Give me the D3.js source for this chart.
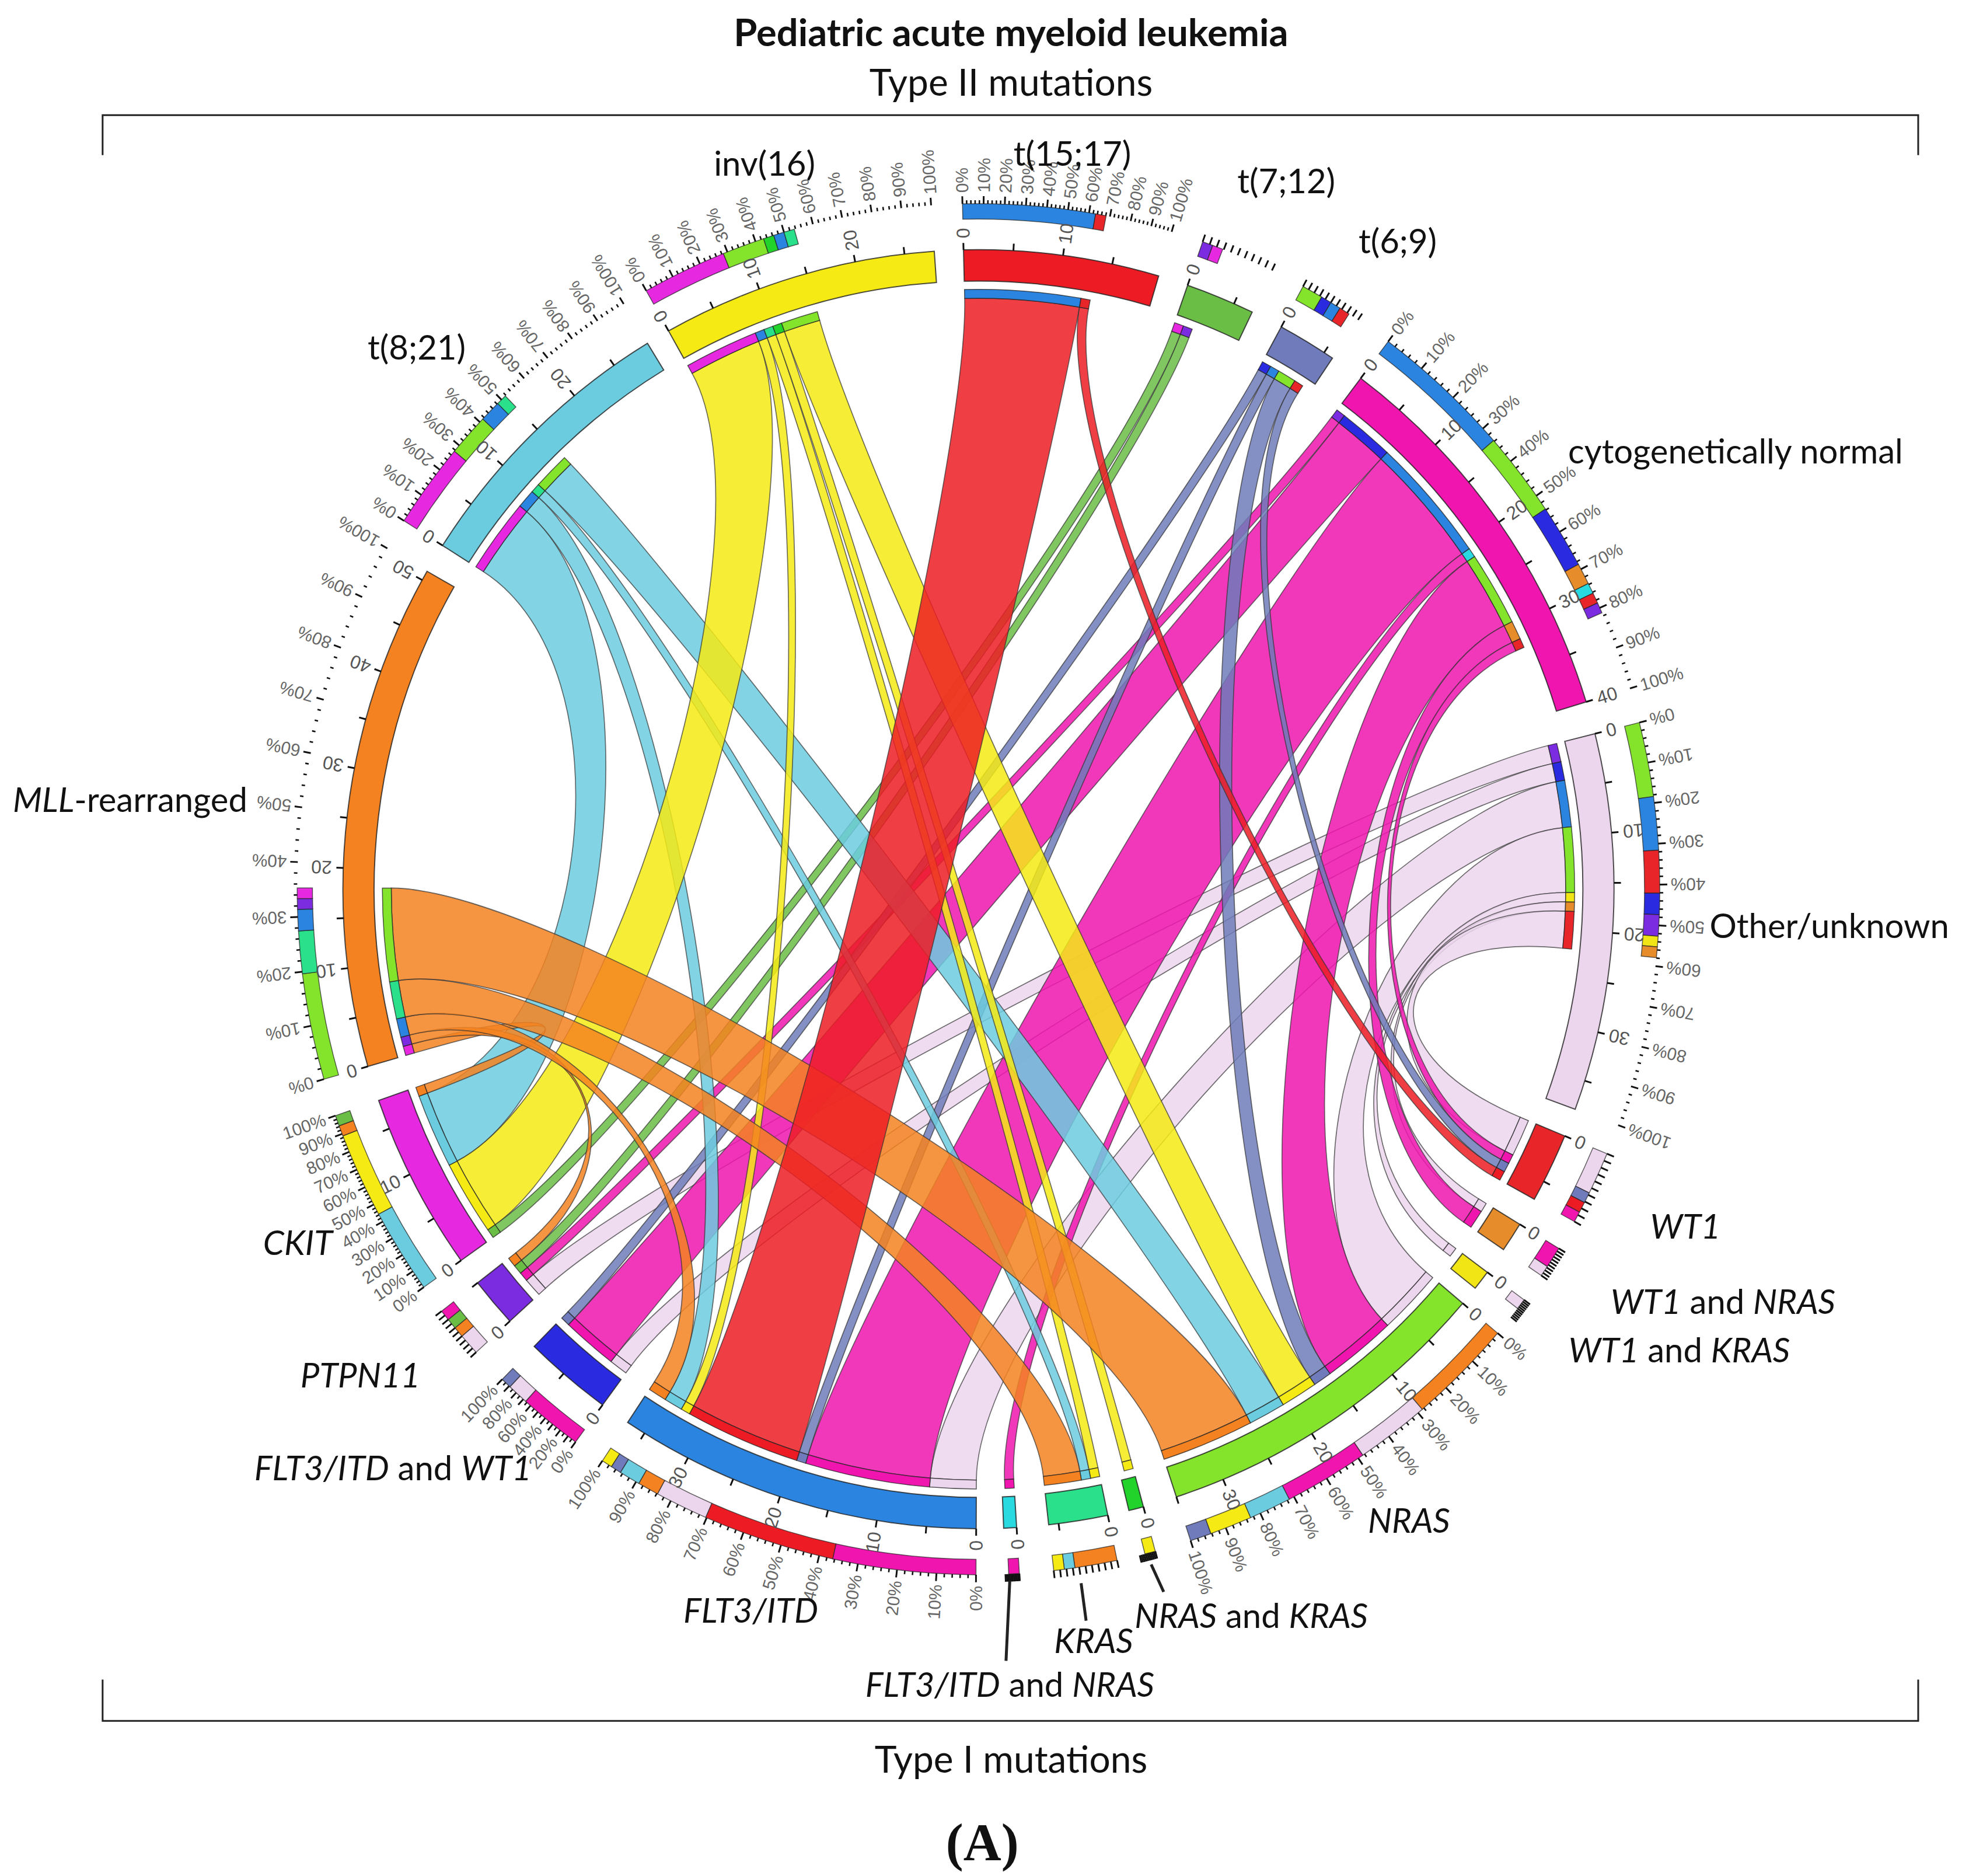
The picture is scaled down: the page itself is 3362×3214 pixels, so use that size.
<!DOCTYPE html>
<html><head><meta charset="utf-8">
<script src="https://cdn.jsdelivr.net/npm/d3@7/dist/d3.min.js"></script>
<style>html,body{margin:0;padding:0;background:#fff}svg{display:block}</style>
</head><body>
<svg id="c" width="3362" height="3214"></svg>
<script>
// ---------- data ----------
const sectorNames = ["t15","t7","t6","cyto","other","wt1","wn","wk","nras","nk","kras","fn","flt3","fw","ptpn","ckit","mll","t8","inv"];
const sectorTotals = [19.8,7,6,40,38,7,3,2,35,1.5,6,1.3,37,9,5,18,51,29,28];
const sectorColors = ["#ed1c24","#6abd45","#6f7bba","#f015ae","#ecd6ee","#e8262a","#e68c2a","#f2e515","#84e32b","#22d32b","#2ae08a","#29dbe0","#2b85e0","#2a2be0","#7b2be0","#e629e0","#f58220","#6cccdf","#f5ea14"];
const linkSource = ["t15","t15","t7","t7","t6","t6","t6","t6",
  "cyto","cyto","cyto","cyto","cyto","cyto","cyto",
  "other","other","other","other","other","other","other",
  "t8","t8","t8","t8","inv","inv","inv","inv","inv",
  "mll","mll","mll","mll","mll"];
const linkTarget = ["flt3","wt1","ckit","ptpn","fw","flt3","nras","wt1",
  "ptpn","fw","flt3","fn","nras","wn","wt1",
  "ptpn","fw","flt3","nras","wk","wn","wt1",
  "ckit","flt3","kras","nras","ckit","flt3","kras","nk","nras",
  "ckit","ptpn","flt3","kras","nras"];
const linkValue = [12.5,1,1,1,1,1,2,1,
  1,6,13.5,1,8,2,1,
  2,2,5,7,1,1,4,
  8,2,1,4,8,1,1,1,4,
  1,1,2,4,10];
// order of partners along the inner cap (clockwise)
const capOrder = {
  t15:["flt3","wt1"], t7:["ckit","ptpn"], t6:["fw","flt3","nras","wt1"],
  cyto:["ptpn","fw","flt3","fn","nras","wn","wt1"],
  other:["ptpn","fw","flt3","nras","wk","wn","wt1"],
  wt1:["other","cyto","t6","t15"], wn:["other","cyto"], wk:["other"],
  nras:["other","cyto","t6","inv","t8","mll"], nk:["inv"], kras:["inv","t8","mll"], fn:["cyto"],
  flt3:["other","cyto","t6","t15","inv","t8","mll"], fw:["other","cyto","t6"],
  ptpn:["other","cyto","t7","mll"], ckit:["t7","inv","t8","mll"],
  mll:["ckit","ptpn","flt3","kras","nras"], t8:["ckit","flt3","kras","nras"], inv:["ckit","flt3","kras","nk","nras"]
};
// order of partners along the outer percentage ring
const ringOrder = {
  t15:["flt3","wt1"], t7:["ptpn","ckit"], t6:["nras","fw","flt3","wt1"],
  cyto:["flt3","nras","fw","wn","fn","wt1","ptpn"],
  other:["nras","flt3","wt1","fw","ptpn","wk","wn"],
  wt1:["other","t6","t15","cyto"], wn:["cyto","other"], wk:["other"],
  nras:["mll","other","cyto","t8","inv","t6"], nk:["inv"], kras:["mll","t8","inv"], fn:["cyto"],
  flt3:["cyto","t15","other","mll","t8","t6","inv"], fw:["cyto","other","t6"],
  ptpn:["other","mll","t7","cyto"], ckit:["t8","inv","mll","t7"],
  mll:["nras","kras","flt3","ptpn","ckit"], t8:["ckit","nras","flt3","kras"], inv:["ckit","nras","nk","flt3","kras"]
};
const pctLabelStep = {t15:10,cyto:10,other:10,nras:10,flt3:10,fw:20,ckit:10,mll:10,t8:10,inv:10};
const pctTickStep = {t15:2,cyto:2,other:2,nras:2,flt3:2,fw:5,ckit:2,mll:2,t8:2,inv:2};
const inwardLabels = ["other","flt3","fw","ptpn","ckit","fn","kras","nk","wk"];
const sectorTextLabels = [
  ["t(15;17)",857,122],["inv(16)",611,130],["t(7;12)",1028,144],["t(6;9)",1117,192],["t(8;21)",333,277],
  ["cytogenetically normal",1387,360],["Other/unknown",1462,739]
];
const italicLabels = [
  [[["MLL",1],["-rearranged",0]],104,638],
  [[["WT1",1]],1347,979],
  [[["WT1",1],[" and ",0],["NRAS",1]],1377,1039],
  [[["WT1",1],[" and ",0],["KRAS",1]],1342,1078],
  [[["NRAS",1]],1126,1214],
  [[["NRAS",1],[" and ",0],["KRAS",1]],1000,1290],
  [[["KRAS",1]],874,1310],
  [[["FLT3/ITD",1],[" and ",0],["NRAS",1]],807,1345],
  [[["FLT3/ITD",1]],600,1286],
  [[["FLT3/ITD",1],[" and ",0],["WT1",1]],314,1172],
  [[["PTPN11",1]],288,1098],
  [[["CKIT",1]],238,992]
];
const leaders = [[807,1263,804,1327],[864,1265,868,1295],[920,1250,930,1272]];
// angular gap after each sector (degrees)
const gapsDeg = [2.74,2.94,3.12,2.96,2.57,2.6,2.5,1.76,3.1,1.95,2.9,2.48,2.75,3.15,2.5,3.2,2.7,2.2,3.2];

// ---------- layout ----------
const S = 3362/1568, R = 1100;
const RAD = Math.PI/180;
const UNIT = 0.9*RAD;
const START = -1.35*RAD;
const rBandOut=R, rBandIn=R*0.951, rCapOut=R*0.938, rCapIn=R*0.924, rRingIn=R*1.048, rRingOut=R*1.072;

const svg = d3.select("#c");
svg.append("rect").attr("width",3362).attr("height",3214).attr("fill","#fff");
const g = svg.append("g").attr("transform",`translate(${782*S},${710.5*S}) scale(0.990,0.996)`);

const sectors = {};
let cursor = START;
sectorNames.forEach((n,i)=>{
  const a0=cursor, a1=cursor+sectorTotals[i]*UNIT;
  sectors[n]={name:n,total:sectorTotals[i],color:sectorColors[i],
    a0,a1,angle:d3.scaleLinear().domain([0,sectorTotals[i]]).range([a0,a1]),
    pct:d3.scaleLinear().domain([0,100]).range([a0,a1])};
  cursor=a1+gapsDeg[i]*RAD;
});
const value = {};
linkValue.forEach((v,i)=>{
  value[linkSource[i]+"|"+linkTarget[i]]=v;
  value[linkTarget[i]+"|"+linkSource[i]]=v;
});
const capPos = {};
sectorNames.forEach(n=>{
  let c=0;
  capOrder[n].forEach(p=>{
    const v=value[n+"|"+p];
    capPos[n+"|"+p]=[sectors[n].angle(c),sectors[n].angle(c+v)];
    c+=v;
  });
});
const pt=(r,a)=>[r*Math.sin(a),-r*Math.cos(a)];
const arc=d3.arc();
const K=0.7;
function ribbonPath(a,b){
  const p=d3.path(), r=rCapIn;
  const q=(ang)=>pt(r,ang), c=(ang)=>pt(r*K,ang);
  p.moveTo(...q(a[0]));
  p.arc(0,0,r,a[0]-Math.PI/2,a[1]-Math.PI/2);
  p.bezierCurveTo(...c(a[1]),...c(b[0]),...q(b[0]));
  p.arc(0,0,r,b[0]-Math.PI/2,b[1]-Math.PI/2);
  p.bezierCurveTo(...c(b[1]),...c(a[0]),...q(a[0]));
  p.closePath();
  return p.toString();
}
// ribbons
const drawOrder=["other","cyto","t6","t7","t8","inv","mll","t15"];
const linkIdx=d3.range(linkValue.length).sort((x,y)=>drawOrder.indexOf(linkSource[x])-drawOrder.indexOf(linkSource[y]));
g.append("g").selectAll("path").data(linkIdx).join("path")
  .attr("d",i=>ribbonPath(capPos[linkSource[i]+"|"+linkTarget[i]],capPos[linkTarget[i]+"|"+linkSource[i]]))
  .attr("fill",i=>sectors[linkSource[i]].color).attr("fill-opacity",0.85)
  .attr("stroke","#333").attr("stroke-opacity",0.7).attr("stroke-width",1.7);
// caps
const capData=Object.keys(capPos).map(k=>{const [s,p]=k.split("|");return {s,p,a:capPos[k]};});
g.append("g").selectAll("path").data(capData).join("path")
  .attr("d",d=>arc({innerRadius:rCapIn,outerRadius:rCapOut,startAngle:d.a[0],endAngle:d.a[1]}))
  .attr("fill",d=>sectors[d.p].color).attr("stroke","#222").attr("stroke-opacity",.75).attr("stroke-width",1.5);
// bands
const secList=sectorNames.map(n=>sectors[n]);
g.append("g").selectAll("path").data(secList).join("path")
  .attr("d",d=>arc({innerRadius:rBandIn,outerRadius:rBandOut,startAngle:d.a0,endAngle:d.a1}))
  .attr("fill",d=>d.color).attr("stroke","#222").attr("stroke-opacity",.8).attr("stroke-width",2);
// percentage rings
const ringData=[];
sectorNames.forEach(n=>{
  let c=0;
  ringOrder[n].forEach(p=>{
    const v=value[n+"|"+p];
    ringData.push({s:n,p,a:[sectors[n].angle(c),sectors[n].angle(c+v)]});
    c+=v;
  });
});
g.append("g").selectAll("path").data(ringData).join("path")
  .attr("d",d=>arc({innerRadius:rRingIn,outerRadius:rRingOut,startAngle:d.a[0],endAngle:d.a[1]}))
  .attr("fill",d=>sectors[d.p].color).attr("stroke","#222").attr("stroke-opacity",.7).attr("stroke-width",1.5);

function radial(parent,a,r0,r1,w){
  const [x1,y1]=pt(r0,a),[x2,y2]=pt(r1,a);
  parent.append("line").attr("x1",x1).attr("y1",y1).attr("x2",x2).attr("y2",y2)
    .attr("stroke","#111").attr("stroke-width",w);
}
function radLabel(parent,a,r,txt,inward,size,fill){
  const deg=a*180/Math.PI;
  const [x,y]=pt(r,a);
  parent.append("text").attr("x",x).attr("y",y)
    .attr("transform",`rotate(${inward?deg+90:deg-90},${x},${y})`)
    .attr("text-anchor",inward?"end":"start").attr("dominant-baseline","central")
    .attr("font-family","'Liberation Sans',Arial,sans-serif").attr("font-size",size).attr("fill",fill).text(txt);
}
const ticks=g.append("g");
secList.forEach(s=>{
  const inward=inwardLabels.includes(s.name);
  // value axis on the band
  d3.range(0,s.total+0.001,5).forEach(v=>{
    const a=s.angle(v);
    radial(ticks,a,rBandOut,rBandOut+12,3);
    if(v%10===0) radLabel(ticks,a,rBandOut+20,String(v),inward,32,"#555");
  });
  // percentage axis
  const ts=pctTickStep[s.name]||10;
  d3.range(0,100.001,ts).forEach(v=>{
    const a=s.pct(v), major=v%10===0;
    radial(ticks,a,rRingOut,rRingOut+(major?13:6),major?3:2.6);
  });
  const step=pctLabelStep[s.name];
  if(step) d3.range(0,100.001,step).forEach(v=>{
    radLabel(ticks,s.pct(v),rRingOut+19,v+"%",inward,30,"#666");
  });
});

// ---------- text ----------
const FONT="Lato,'Open Sans',sans-serif";
const T=svg.append("g").attr("font-family",FONT).attr("fill","#111").attr("text-anchor","middle").attr("dominant-baseline","central");
T.append("text").attr("x",808*S).attr("y",25*S).attr("font-size",65).attr("font-weight",700).text("Pediatric acute myeloid leukemia");
T.append("text").attr("x",808*S).attr("y",65*S).attr("font-size",64).text("Type II mutations");
T.append("text").attr("x",808*S).attr("y",1405*S).attr("font-size",64).text("Type I mutations");
T.append("text").attr("x",785*S).attr("y",1472*S).attr("font-size",90).attr("font-weight",700).attr("font-family","'Liberation Serif',serif").text("(A)");
sectorTextLabels.forEach(([t,x,y])=>T.append("text").attr("x",x*S).attr("y",y*S).attr("font-size",58).text(t));
italicLabels.forEach(([parts,x,y])=>{
  const e=T.append("text").attr("x",x*S).attr("y",y*S).attr("font-size",58);
  parts.forEach(([t,i])=>e.append("tspan").attr("font-style",i?"italic":"normal").attr("xml:space","preserve").text(t));
});
// brackets & leaders
const L=svg.append("g").attr("fill","none").attr("stroke","#222").attr("stroke-width",3);
L.append("path").attr("d",`M${82*S},${124*S}V${92*S}H${1533*S}V${124*S}`);
L.append("path").attr("d",`M${82*S},${1342*S}V${1375*S}H${1533*S}V${1342*S}`);
leaders.forEach(([a,b,c,d])=>L.append("line").attr("x1",a*S).attr("y1",b*S).attr("x2",c*S).attr("y2",d*S).attr("stroke-width",5));
</script>
</body></html>
